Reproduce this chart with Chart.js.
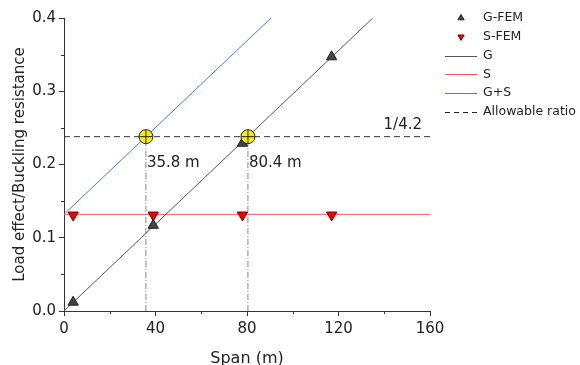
<!DOCTYPE html>
<html>
<head>
<meta charset="utf-8">
<script src="https://cdn.jsdelivr.net/npm/chart.js@4.4.1/dist/chart.umd.min.js"></script>
<style>
  html, body { margin: 0; padding: 0; background: #fff; }
  #wrap { width: 580px; height: 365px; }
</style>
</head>
<body>
<div id="wrap"><canvas id="chart"></canvas></div>
<script>
// FEM results
const femSpan = [4, 39, 78, 117];
const gFemRatio = [0.012, 0.117, 0.229, 0.347];
const sFemRatio = [0.131, 0.131, 0.131, 0.131];

// analytical lines
const gSpan = [0, 135];
const gRatio = [0, 0.4];
const sSpan = [0, 160];
const sRatio = [0.132, 0.132];
const gsSpan = [0, 90.5];
const gsRatio = [0.132, 0.4];

// allowable ratio 1/4.2 and the spans where it is reached
const allowSpan = [0, 160];
const allowRatio = 0.238;
const limitSpan = [35.8, 80.4];
const limitLabels = ['35.8 m', '80.4 m'];

const xMinor = [20, 60, 100, 140];
const yMinor = [0.05, 0.15, 0.25, 0.35];

const FONT = '"DejaVu Sans", sans-serif';
const pts = (xs, ys) => xs.map((x, i) => ({ x, y: Array.isArray(ys) ? ys[i] : ys }));

const legendItems = [
  { label: 'G-FEM', kind: 'tri', fill: '#444', stroke: '#222' },
  { label: 'S-FEM', kind: 'triDown', fill: '#f00000', stroke: '#700' },
  { label: 'G', kind: 'line', color: '#555' },
  { label: 'S', kind: 'line', color: '#f25a5a' },
  { label: 'G+S', kind: 'line', color: '#3a82e0' },
  { label: 'Allowable ratio', kind: 'dash', color: '#222' },
];

const extras = {
  id: 'extras',
  afterDraw(chart) {
    const { ctx, scales: { x, y }, chartArea } = chart;
    ctx.save();
    // minor ticks
    ctx.strokeStyle = '#333';
    ctx.lineWidth = 1;
    ctx.beginPath();
    xMinor.forEach(v => {
      const px = Math.round(x.getPixelForValue(v)) + 0.5;
      ctx.moveTo(px, chartArea.bottom);
      ctx.lineTo(px, chartArea.bottom + 3);
    });
    yMinor.forEach(v => {
      const py = Math.round(y.getPixelForValue(v)) + 0.5;
      ctx.moveTo(chartArea.left, py);
      ctx.lineTo(chartArea.left - 3, py);
    });
    ctx.stroke();

    // annotation text
    ctx.fillStyle = '#222';
    ctx.font = '15px ' + FONT;
    ctx.textBaseline = 'middle';
    ctx.textAlign = 'left';
    limitSpan.forEach((s, i) => {
      ctx.fillText(limitLabels[i], x.getPixelForValue(s) + 1, y.getPixelForValue(allowRatio) + 26);
    });
    ctx.textAlign = 'right';
    ctx.fillText('1/4.2', x.getPixelForValue(160) - 8, y.getPixelForValue(allowRatio) - 12);

    // legend
    ctx.font = '12.5px ' + FONT;
    ctx.textAlign = 'left';
    const lx = 445, lw = 32, tx = 483;
    legendItems.forEach((it, i) => {
      const cy = 18 + i * 18.8;
      const cx = lx + lw / 2;
      ctx.setLineDash([]);
      if (it.kind === 'tri' || it.kind === 'triDown') {
        const r = 3.6, d = it.kind === 'tri' ? 1 : -1;
        ctx.beginPath();
        ctx.moveTo(cx, cy - d * r);
        ctx.lineTo(cx + r * 0.866, cy + d * r * 0.5);
        ctx.lineTo(cx - r * 0.866, cy + d * r * 0.5);
        ctx.closePath();
        ctx.fillStyle = it.fill;
        ctx.fill();
        ctx.strokeStyle = it.stroke;
        ctx.stroke();
      } else {
        ctx.strokeStyle = it.color;
        if (it.kind === 'dash') ctx.setLineDash([5, 4]);
        ctx.beginPath();
        ctx.moveTo(lx, Math.round(cy) + 0.5);
        ctx.lineTo(lx + lw, Math.round(cy) + 0.5);
        ctx.stroke();
      }
      ctx.fillStyle = '#222';
      ctx.fillText(it.label, tx, cy);
    });
    ctx.restore();
  }
};

const lineDs = (data, color, extra) => Object.assign({
  data, showLine: true, borderColor: color, borderWidth: 1,
  pointRadius: 0, pointHoverRadius: 0, fill: false, order: 6
}, extra || {});

const datasets = [
  { label: 'cross', data: pts(limitSpan, allowRatio), pointStyle: 'cross', pointRadius: 6.5,
    borderColor: '#222', borderWidth: 1, order: 0 },
  { label: 'limit', data: pts(limitSpan, allowRatio), pointStyle: 'circle', pointRadius: 7,
    backgroundColor: '#f6f000', borderColor: '#222', borderWidth: 1, order: 1 },
  { label: 'G-FEM', data: pts(femSpan, gFemRatio), pointStyle: 'triangle', pointRadius: 6,
    backgroundColor: '#444', borderColor: '#222', borderWidth: 1, order: 2 },
  { label: 'S-FEM', data: pts(femSpan, sFemRatio), pointStyle: 'triangle', rotation: 180, pointRadius: 6,
    backgroundColor: '#f00000', borderColor: '#700', borderWidth: 1, order: 2 },
  lineDs(pts(gSpan, gRatio), '#555'),
  lineDs(pts(sSpan, sRatio), '#f25a5a'),
  lineDs(pts(gsSpan, gsRatio), '#3a82e0'),
  lineDs(pts(allowSpan, allowRatio), '#333', { borderDash: [6, 4], order: 5 }),
  ...limitSpan.map(s => lineDs([{ x: s, y: 0 }, { x: s, y: allowRatio }], '#888',
    { borderDash: [6, 2, 1, 2], order: 7 })),
];

new Chart(document.getElementById('chart'), {
  type: 'scatter',
  data: { datasets },
  options: {
    responsive: true,
    maintainAspectRatio: false,
    animation: false,
    events: [],
    layout: { padding: { top: 18, right: 150, left: 0, bottom: 0 } },
    plugins: { legend: { display: false }, tooltip: { enabled: false } },
    scales: {
      x: {
        type: 'linear', min: 0, max: 160,
        afterFit: s => { s.height = 54; },
        border: { color: '#333', width: 1 },
        grid: { drawOnChartArea: false, drawTicks: true, tickLength: 5, tickColor: '#333' },
        ticks: { stepSize: 40, padding: 4, color: '#222', font: { family: FONT, size: 15 } },
        title: { display: true, text: 'Span (m)', color: '#222', padding: { top: 0, bottom: -3 },
          font: { family: FONT, size: 16 } }
      },
      y: {
        type: 'linear', min: 0, max: 0.4,
        afterFit: s => { s.width = 64; },
        border: { color: '#333', width: 1 },
        grid: { drawOnChartArea: false, drawTicks: true, tickLength: 5, tickColor: '#333' },
        ticks: { stepSize: 0.1, padding: 3, color: '#222', font: { family: FONT, size: 15 },
          callback: v => v.toFixed(1) },
        title: { display: true, text: 'Load effect/Buckling resistance', color: '#222',
          padding: { top: 11, bottom: 0 }, font: { family: FONT, size: 15 } }
      }
    }
  },
  plugins: [extras]
});
</script>
</body>
</html>
